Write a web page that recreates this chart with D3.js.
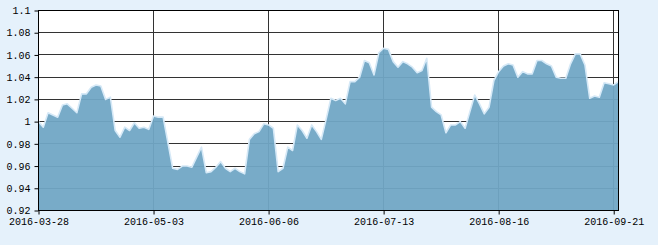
<!DOCTYPE html>
<html>
<head>
<meta charset="utf-8">
<script src="https://cdn.jsdelivr.net/npm/d3@7"></script>
<style>
  body { margin: 0; background: #e5f1fb; }
  svg { display: block; }
  .tick text { font-family: "Liberation Mono", "DejaVu Sans Mono", monospace; font-size: 10px; fill: #000; }
</style>
</head>
<body>
<svg id="chart" width="658" height="245"></svg>
<script>
// trading-day values, one per session
const values = [
  1.000, 0.995, 1.008, 1.006, 1.004, 1.015, 1.016, 1.012, 1.008, 1.025,
  1.025, 1.031, 1.033, 1.032, 1.020, 1.022, 0.992, 0.986, 0.995, 0.992,
  0.999, 0.994, 0.995, 0.993, 1.005, 1.004, 1.004, 0.981, 0.958, 0.957,
  0.960, 0.960, 0.959, 0.968, 0.977, 0.954, 0.955, 0.959, 0.964, 0.958,
  0.955, 0.958, 0.955, 0.953, 0.984, 0.989, 0.991, 0.998, 0.997, 0.994,
  0.955, 0.958, 0.977, 0.974, 0.997, 0.992, 0.985, 0.997, 0.991, 0.984,
  1.002, 1.021, 1.019, 1.021, 1.016, 1.036, 1.036, 1.040, 1.055, 1.053,
  1.042, 1.062, 1.066, 1.065, 1.054, 1.049, 1.054, 1.052, 1.049, 1.044,
  1.046, 1.057, 1.013, 1.009, 1.006, 0.990, 0.997, 0.997, 1.000, 0.994,
  1.009, 1.024, 1.016, 1.007, 1.013, 1.037, 1.045, 1.050, 1.052, 1.051,
  1.040, 1.045, 1.043, 1.043, 1.055, 1.055, 1.052, 1.050, 1.040, 1.039,
  1.039, 1.052, 1.061, 1.061, 1.051, 1.021, 1.023, 1.022, 1.035, 1.034,
  1.033, 1.036
];
const xTickIdx = [0, 24, 48, 72, 96, 120];
const xLabels = ["2016-03-28", "2016-05-03", "2016-06-06", "2016-07-13", "2016-08-16", "2016-09-21"];
const yTicks = [0.92, 0.94, 0.96, 0.98, 1.0, 1.02, 1.04, 1.06, 1.08, 1.1];
const yLabels = ["0.92", "0.94", "0.96", "0.98", "1", "1.02", "1.04", "1.06", "1.08", "1.1"];

const plotLeft = 38.5, plotRight = 618.5, plotTop = 10.5, plotBottom = 210.5;
const svg = d3.select("#chart");

const x = d3.scaleLinear().domain([0, values.length - 1]).range([plotLeft, plotRight]);
const y = d3.scaleLinear().domain([0.92, 1.1]).range([plotBottom, plotTop]);
const snap = (v) => Math.round(v - 0.5) + 0.5;

svg.append("rect")
  .attr("x", plotLeft).attr("y", plotTop)
  .attr("width", plotRight - plotLeft).attr("height", plotBottom - plotTop)
  .attr("fill", "#fff");

// grid
svg.append("g").selectAll("line")
  .data(yTicks.slice(1, -1))
  .join("line")
  .attr("x1", plotLeft).attr("x2", plotRight)
  .attr("y1", (d) => snap(y(d))).attr("y2", (d) => snap(y(d)))
  .attr("stroke", "#333").attr("stroke-width", 1);
svg.append("g").selectAll("line")
  .data(xTickIdx.slice(1))
  .join("line")
  .attr("x1", (d) => snap(x(d))).attr("x2", (d) => snap(x(d)))
  .attr("y1", plotTop).attr("y2", plotBottom)
  .attr("stroke", "#333").attr("stroke-width", 1);

// area
const area = d3.area()
  .x((d, i) => x(i))
  .y0(plotBottom)
  .y1((d) => y(d));
svg.append("path")
  .datum(values)
  .attr("d", area)
  .attr("fill", "rgb(113,166,197)")
  .attr("fill-opacity", 0.95);

const line = d3.line()
  .x((d, i) => x(i))
  .y((d) => y(d));
svg.append("path")
  .datum(values)
  .attr("d", line)
  .attr("fill", "none")
  .attr("stroke", "#d6e9f7")
  .attr("stroke-width", 1.6)
  .attr("stroke-linejoin", "round");

// frame
svg.append("rect")
  .attr("x", plotLeft).attr("y", plotTop)
  .attr("width", plotRight - plotLeft).attr("height", plotBottom - plotTop)
  .attr("fill", "none")
  .attr("stroke", "#000").attr("stroke-width", 1);

// axes
const xAxis = d3.axisBottom(x)
  .tickValues(xTickIdx)
  .tickSize(4)
  .tickPadding(3)
  .tickFormat((d, i) => xLabels[i]);
svg.append("g")
  .attr("transform", "translate(0," + plotBottom + ")")
  .call(xAxis)
  .call((g) => g.select(".domain").remove());

const yAxis = d3.axisLeft(y)
  .tickValues(yTicks)
  .tickSize(4)
  .tickPadding(4)
  .tickFormat((d, i) => yLabels[i]);
svg.append("g")
  .attr("transform", "translate(" + plotLeft + ",0)")
  .call(yAxis)
  .call((g) => g.select(".domain").remove());

svg.selectAll(".tick line").attr("stroke", "#000");
</script>
</body>
</html>
